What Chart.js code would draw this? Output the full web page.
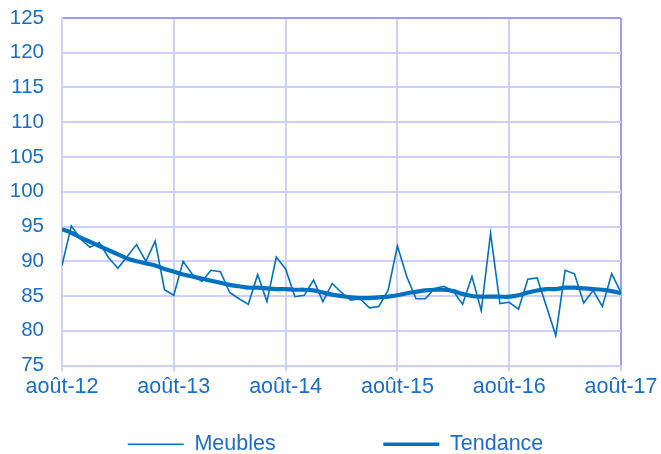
<!DOCTYPE html>
<html>
<head>
<meta charset="utf-8">
<script src="https://cdn.jsdelivr.net/npm/chart.js@4"></script>
<style>
  body { margin: 0; background: #fff; }
  #box { width: 661px; height: 454px; }
</style>
</head>
<body>
<div id="box"><canvas id="myChart" width="661" height="454"></canvas></div>
<script>
'use strict';

// tick labels, one per year (every 12 months)
let tickLabels = ['août-12', 'août-13', 'août-14', 'août-15', 'août-16', 'août-17'];

// monthly values, août-12 .. août-17 (61 months)
let meubles = [
  89.4, 95.1, 93.2, 92.0, 92.7, 90.5, 89.0, 90.7, 92.4, 90.0, 92.9, 85.9,
  85.1, 90.0, 88.1, 87.1, 88.7, 88.5, 85.5, 84.6, 83.8, 88.1, 84.2, 90.6,
  88.9, 84.9, 85.1, 87.3, 84.2, 86.8, 85.5, 84.4, 84.6, 83.3, 83.5, 85.8,
  92.2, 87.8, 84.6, 84.6, 86.1, 86.4, 85.7, 83.8, 87.8, 82.9, 94.0, 83.9,
  84.1, 83.1, 87.4, 87.6, 83.5, 79.3, 88.7, 88.2, 84.0, 85.8, 83.5, 88.2,
  85.5
];
let tendance = [
  94.6, 94.1, 93.4, 92.8, 92.2, 91.6, 91.0, 90.4, 90.0, 89.7, 89.4, 88.9,
  88.5, 88.1, 87.8, 87.5, 87.2, 86.9, 86.6, 86.4, 86.2, 86.2, 86.1, 86.0,
  86.0, 85.9, 85.9, 85.8, 85.5, 85.2, 85.0, 84.8, 84.7, 84.7, 84.8, 84.9,
  85.1, 85.4, 85.6, 85.8, 85.9, 85.9, 85.7, 85.3, 85.0, 84.9, 84.9, 84.9,
  84.9, 85.1, 85.5, 85.8, 86.0, 86.0, 86.2, 86.2, 86.1, 86.0, 85.9, 85.7,
  85.4
];

let blue = '#0070c0';
let textBlue = '#1a6dc4';
let gridLight = '#cfcfff';
let gridDark = '#9c9cff';

function toPoints(arr) {
  return arr.map(function (v, i) { return { x: i, y: v }; });
}

let ctx = document.getElementById('myChart').getContext('2d');

let myChart = new Chart(ctx, {
  type: 'line',
  data: {
    datasets: [{
      label: 'Meubles',
      data: toPoints(meubles),
      borderColor: blue,
      backgroundColor: blue,
      borderWidth: 1.6,
      pointRadius: 0,
      tension: 0
    },
    {
      label: 'Tendance',
      data: toPoints(tendance),
      borderColor: blue,
      backgroundColor: blue,
      borderWidth: 4.2,
      pointRadius: 0,
      tension: 0.3
    }]
  },
  options: {
    responsive: false,
    animation: false,
    devicePixelRatio: 1,
    layout: { padding: { top: 0, right: 0, left: 10, bottom: -11 } },
    plugins: {
      tooltip: { enabled: false },
      legend: {
        position: 'bottom',
        labels: {
          color: textBlue,
          font: { family: 'Liberation Sans', size: 21.5 },
          boxWidth: 56,
          boxHeight: 0,
          padding: 12,
          generateLabels: function (chart) {
            let items = Chart.defaults.plugins.legend.labels.generateLabels(chart);
            // wide gap between the two entries, as in the source
            items[0].text = items[0].text + '                ';
            items[0].lineWidth = 1.4;
            items[1].lineWidth = 3.5;
            return items;
          }
        }
      }
    },
    scales: {
      x: {
        type: 'linear',
        min: 0,
        max: 60,
        afterFit: function (scale) {
          scale.height = 56;
          scale.paddingRight = 40;
        },
        ticks: {
          stepSize: 12,
          color: textBlue,
          padding: 3,
          maxRotation: 0,
          font: { family: 'Liberation Sans', size: 21.5 },
          callback: function (value) { return tickLabels[value / 12]; }
        },
        grid: {
          color: function (c) { return c.index === tickLabels.length - 1 ? gridDark : gridLight; },
          lineWidth: 2,
          tickLength: 6,
          tickColor: gridLight
        },
        border: { color: gridLight, width: 2 }
      },
      y: {
        min: 75,
        max: 125,
        afterFit: function (scale) {
          scale.width = 52;
          scale.paddingTop = 18;
          scale.paddingBottom = 0;
        },
        ticks: {
          stepSize: 5,
          color: textBlue,
          padding: 18,
          font: { family: 'Liberation Sans', size: 20.5 }
        },
        grid: {
          color: function (c) { return c.tick && c.tick.value === 125 ? gridDark : gridLight; },
          lineWidth: 2,
          drawTicks: false
        },
        border: { color: gridLight, width: 2 }
      }
    }
  }
});
</script>
</body>
</html>
